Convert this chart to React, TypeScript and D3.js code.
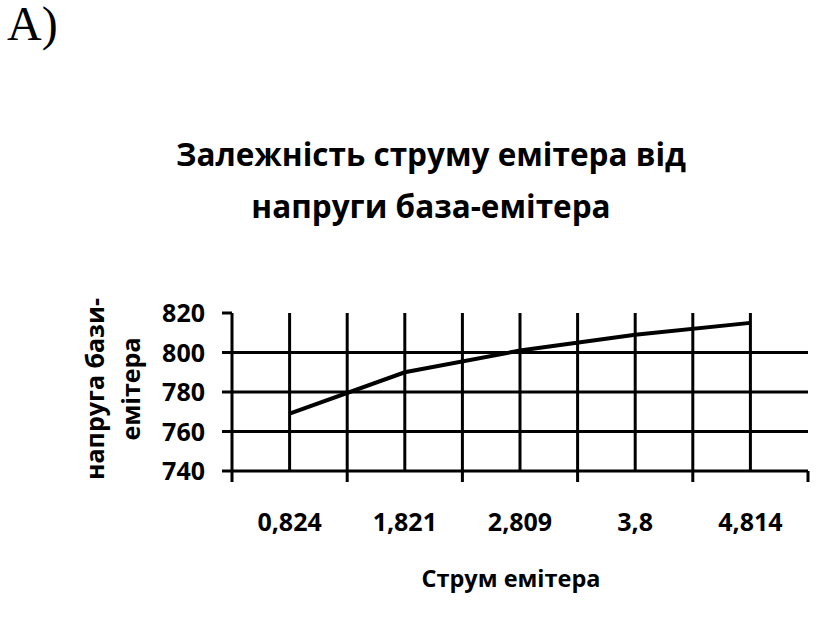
import React from "react";
import * as d3 from "d3";

const categories = ["0,824", "1,821", "2,809", "3,8", "4,814"];
const values = [769, 790, 801, 809, 815];
const yTicks = [740, 760, 780, 800, 820];
const titleLines = ["Залежність струму емітера від", "напруги база-емітера"];
const yTitleLines = ["напруга бази-", "емітера"];
const xTitle = "Струм емітера";

const W = 829;
const H = 621;
const FONT = "'Open Sans', 'Noto Sans', sans-serif";

export default function App() {
  const x = d3.scaleBand<string>().domain(categories).range([232, 808]).padding(0);
  const y = d3.scaleLinear().domain([740, 820]).range([471, 313]);
  const bw = x.bandwidth();
  const cx = (c: string) => (x(c) as number) + bw / 2;
  const line = d3
    .line<number>()
    .x((_, i) => cx(categories[i]))
    .y((d) => y(d));
  const boundaries = [...categories.map((c) => x(c) as number), x.range()[1]];
  const top = y(820);
  const bottom = y(740);
  const sw = 3;
  return (
    <svg
      width={W}
      height={H}
      style={{ position: "absolute", left: 0, top: 0, background: "#fff" }}
    >
      <rect x={0} y={0} width={W} height={H} fill="#fff" />
      <text x={7} y={40} fontFamily="'Liberation Serif', 'DejaVu Serif', serif" fontSize={48} fill="#000">
        A)
      </text>
      {titleLines.map((t, i) => (
        <text
          key={i}
          x={431}
          y={166 + i * 52}
          textAnchor="middle"
          fontFamily={FONT}
          fontWeight="bold"
          fontSize={31.5}
          fill="#000"
        >
          {t}
        </text>
      ))}
      {/* horizontal gridlines */}
      {yTicks
        .filter((t) => t !== 820)
        .map((t) => (
          <line key={"h" + t} x1={232} x2={x.range()[1]} y1={y(t)} y2={y(t)} stroke="#000" strokeWidth={sw} />
        ))}
      {/* y ticks */}
      {yTicks.map((t) => (
        <g key={"yt" + t}>
          <line x1={222} x2={232} y1={y(t)} y2={y(t)} stroke="#000" strokeWidth={sw} />
          <text
            x={205}
            y={y(t)}
            dy="0.36em"
            textAnchor="end"
            fontFamily={FONT}
            fontWeight="bold"
            fontSize={25}
            fill="#000"
          >
            {t}
          </text>
        </g>
      ))}
      {/* vertical gridlines at category centers */}
      {categories.map((c) => (
        <line key={"vc" + c} x1={cx(c)} x2={cx(c)} y1={top} y2={bottom} stroke="#000" strokeWidth={sw} />
      ))}
      {/* category boundaries with ticks below axis */}
      {boundaries.map((b, i) => (
        <line key={"vb" + i} x1={b} x2={b} y1={i === boundaries.length - 1 ? bottom : top} y2={bottom + 11} stroke="#000" strokeWidth={sw} />
      ))}
      {/* x tick labels */}
      {categories.map((c) => (
        <text
          key={"xl" + c}
          x={cx(c)}
          y={531}
          textAnchor="middle"
          fontFamily={FONT}
          fontWeight="bold"
          fontSize={25}
          fill="#000"
        >
          {c}
        </text>
      ))}
      <path d={line(values) || ""} fill="none" stroke="#000" strokeWidth={4} />
      {/* axis titles */}
      <text
        x={511}
        y={587}
        textAnchor="middle"
        fontFamily={FONT}
        fontWeight="bold"
        fontSize={23.5}
        fill="#000"
      >
        {xTitle}
      </text>
      {yTitleLines.map((t, i) => (
        <text
          key={"yl" + i}
          transform={`translate(${104 + i * 36},${389}) rotate(-90)`}
          textAnchor="middle"
          fontFamily={FONT}
          fontWeight="bold"
          fontSize={25}
          fill="#000"
        >
          {t}
        </text>
      ))}
    </svg>
  );
}
